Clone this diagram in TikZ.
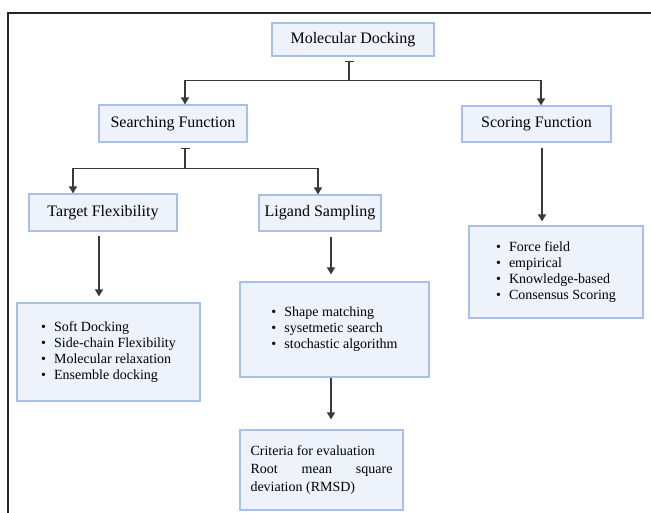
\documentclass[tikz,border=0pt]{standalone}
\usepackage{fontspec}
\setmainfont{Liberation Serif}
\usetikzlibrary{arrows.meta}
\definecolor{boxfill}{HTML}{EEF3FB}
\definecolor{boxline}{HTML}{A8C0E6}
\definecolor{lineclr}{HTML}{3A3A3A}
\definecolor{frameclr}{HTML}{262626}
\tikzset{
  box/.style={draw=boxline, fill=boxfill, line width=1.2pt, inner sep=0pt, align=center},
  headbox/.style={box, font=\fontsize{16}{18}\selectfont},
  listbox/.style={box, align=left, font=\fontsize{14}{16}\selectfont},
  arr/.style={draw=lineclr, line width=1.6pt, -{Triangle[width=8pt,length=7pt]}},
  barline/.style={draw=lineclr, line width=1.6pt, {Bar[width=9pt,line width=1.6pt]}-},
}
\newcommand{\bitem}[1]{\makebox[13pt][l]{\textbullet}#1}
\begin{document}
\begin{tikzpicture}[x=1pt,y=-1pt]
\useasboundingbox (0,0) rectangle (651,512);
\fill[white] (0,0) rectangle (651,512);
\draw[frameclr, line width=2.5pt] (8,513) -- (8,13) -- (652,13);

\node[headbox, minimum width=162pt, minimum height=33pt] (MD) at (353,39.5) {Molecular Docking};
\node[headbox, minimum width=148pt, minimum height=37pt] (SF) at (173,123.5) {Searching Function};
\node[headbox, minimum width=149pt, minimum height=36pt] (ScF) at (536.5,124) {Scoring Function};
\node[headbox, minimum width=148pt, minimum height=37pt] (TF) at (103,212.5) {Target Flexibility};
\node[headbox, minimum width=122pt, minimum height=36pt] (LS) at (320,213) {Ligand Sampling};

\node[listbox, minimum width=183pt, minimum height=98pt] (TFL) at (108.5,352)
  {\bitem{Soft Docking}\\\bitem{Side-chain Flexibility}\\\bitem{Molecular relaxation}\\\bitem{Ensemble docking}};
\node[listbox, minimum width=189pt, minimum height=95pt] (LSL) at (334.5,329.5)
  {\bitem{Shape matching}\\\bitem{sysetmetic search}\\\bitem{stochastic algorithm}};
\node[listbox, minimum width=174pt, minimum height=92pt] (ScL) at (556,272)
  {\bitem{Force field}\\\bitem{empirical}\\\bitem{Knowledge-based}\\\bitem{Consensus Scoring}};
\node[box, minimum width=163pt, minimum height=80pt] (CR) at (321.5,470)
  {\begin{minipage}{142pt}\fontsize{14}{18}\selectfont\raggedright Criteria for evaluation\par
   \fontdimen2\font=0.25em\fontdimen3\font=3em\rightskip=0pt plus 1fil\relax
   Root\hfill mean\hfill square\linebreak deviation (RMSD)\end{minipage}};

% Molecular Docking branches
\draw[barline, shorten <=4pt] ([xshift=-4pt]MD.south) -- ++(0,24) coordinate (j1);
\draw[arr] (j1) -| ([xshift=12pt]SF.north);
\draw[arr] (j1) -| ([xshift=4.5pt]ScF.north);

% Searching Function branches
\draw[barline, shorten <=5pt] ([xshift=12pt]SF.south) -- ++(0,26) coordinate (j2);
\draw[arr] (j2) -| ([xshift=-30pt]TF.north);
\draw[arr] (j2) -| ([xshift=-2pt]LS.north);

% vertical arrows
\draw[arr, shorten <=5pt, shorten >=4pt] ([xshift=5.5pt]ScF.south) -- ([xshift=5.5pt]ScF.south |- ScL.north);
\draw[arr, shorten <=4pt, shorten >=6pt] ([xshift=-4pt]TF.south) -- ([xshift=-4pt]TF.south |- TFL.north);
\draw[arr, shorten <=5pt, shorten >=7pt] ([xshift=11pt]LS.south) -- ([xshift=11pt]LS.south |- LSL.north);
\draw[arr, shorten >=10pt] ([xshift=-3.5pt]LSL.south) -- ([xshift=-3.5pt]LSL.south |- CR.north);
\end{tikzpicture}
\end{document}
